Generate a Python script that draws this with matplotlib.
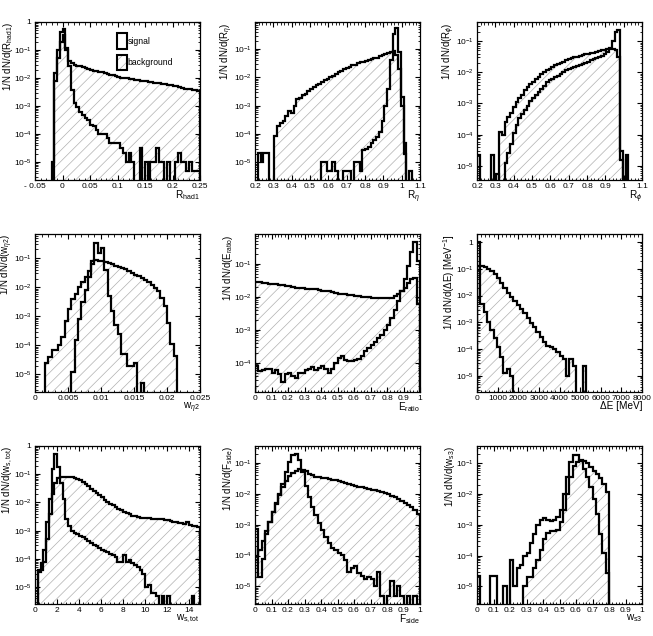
import matplotlib
matplotlib.use("Agg")
import matplotlib.pyplot as plt
import numpy as np
from matplotlib.patches import Rectangle
from matplotlib.ticker import (AutoMinorLocator, FuncFormatter, LogLocator,
                               MultipleLocator, NullFormatter)

plt.rcParams.update({
    "font.family": ["Liberation Sans", "DejaVu Sans"],
    "mathtext.fontset": "custom",
    "mathtext.rm": "Liberation Sans",
    "mathtext.it": "Liberation Sans:italic",
    "mathtext.bf": "Liberation Sans:bold",
    "axes.linewidth": 0.9,
    "xtick.direction": "in", "ytick.direction": "in",
    "xtick.top": True, "ytick.right": True,
    "xtick.major.size": 3.5, "xtick.minor.size": 1.8,
    "ytick.major.size": 3.5, "ytick.minor.size": 1.8,
    "xtick.major.width": 0.8, "xtick.minor.width": 0.6,
    "ytick.major.width": 0.8, "ytick.minor.width": 0.6,
    "xtick.labelsize": 6, "ytick.labelsize": 6,
    "xtick.major.pad": 2, "ytick.major.pad": 2.5,
    "hatch.linewidth": 0.5,
    "hatch.color": "#b0b0b0",
})

HATCH_GREY = "#b0b0b0"
FLOOR = 1e-9  # empty bins are drawn down to the frame bottom

# ---- normalised bin contents (1/N dN/dx) -----------------------------------
# R_had1: 60 bins in [-0.05, 0.25]
rhad1_range = (-0.05, 0.25)
rhad1_sig = [0, 0, 0, 0, 0, 0, 1e-5, 0.015, 0.1, 0.45,
             0.55, 0.12, 0.026, 3.8e-3, 1.3e-3, 9e-4, 5.9e-4, 4.9e-4, 3.7e-4, 3.2e-4,
             2.1e-4, 2e-4, 1.35e-4, 1e-4, 1e-4, 1e-4, 7.2e-5, 4.8e-5, 4.8e-5, 4.8e-5,
             4.8e-5, 3.2e-5, 2.1e-5, 1e-5, 2.1e-5, 1e-5, 0, 0, 3.2e-5, 0,
             1e-5, 0, 1e-5, 1e-5, 3.2e-5, 1e-5, 1e-5, 0, 1e-5, 0,
             0, 1e-5, 2.1e-5, 1e-5, 1e-5, 5e-6, 1e-5, 5e-6, 5e-6, 5e-6]
rhad1_bkg = [0, 0, 0, 0, 0, 0, 0, 0.008, 0.05, 0.2,
             0.35, 0.1, 0.041, 0.034, 0.030, 0.028, 0.026, 0.024, 0.022, 0.021,
             0.0195, 0.0185, 0.0175, 0.0165, 0.0158, 0.015, 0.0143, 0.0133, 0.0127, 0.0121,
             0.0107, 0.0104, 0.0101, 0.0098, 0.0093, 0.0091, 0.0088, 0.0086, 0.0081, 0.0079,
             0.0077, 0.0075, 0.0071, 0.0069, 0.0067, 0.0065, 0.0062, 0.0060, 0.0057, 0.0056,
             0.0052, 0.0050, 0.0047, 0.0045, 0.0042, 0.0041, 0.0040, 0.0038, 0.0037, 0.0034]

# R_eta: 60 bins in [0.2, 1.1]
reta_range = (0.2, 1.1)
reta_sig = [0, 2.1e-5, 1e-5, 2.1e-5, 2.1e-5, 0, 0, 0, 0, 0,
            0, 0, 0, 0, 0, 0, 0, 0, 0, 0,
            0, 0, 0, 0, 1e-5, 1e-5, 5e-6, 5e-6, 1e-5, 5e-6,
            0, 0, 5e-6, 5e-6, 5e-6, 0, 1e-5, 1e-5, 5e-6, 2.8e-5,
            3e-5, 3.5e-5, 5e-5, 6e-5, 8e-5, 1.2e-4, 3e-4, 1e-3, 4e-3, 0.04,
            0.35, 0.55, 0.08, 2e-3, 5e-5, 0, 5e-6, 0, 0, 0]
reta_bkg = [0, 0, 0, 0, 0, 0, 0, 8.3e-5, 2e-4, 2.4e-4,
            2.8e-4, 4.3e-4, 6.4e-4, 5.5e-4, 1e-3, 1.7e-3, 1.9e-3, 2.3e-3, 2.7e-3, 3.2e-3,
            3.8e-3, 4.5e-3, 5.2e-3, 6e-3, 7e-3, 8e-3, 9e-3, 0.01, 0.0115, 0.013,
            0.015, 0.017, 0.019, 0.0215, 0.024, 0.0263, 0.0285, 0.031, 0.0336, 0.0355,
            0.0385, 0.041, 0.044, 0.047, 0.05, 0.055, 0.06, 0.065, 0.07, 0.076,
            0.087, 0.06, 0.02, 1e-3, 2e-5, 0, 0, 0, 0, 0]

# R_phi: 60 bins in [0.2, 1.1]
rphi_range = (0.2, 1.1)
rphi_sig = [2.2e-5, 0, 0, 0, 0, 2.2e-5, 0, 5.6e-6, 0, 0,
            1.2e-5, 2.5e-5, 5e-5, 1.1e-4, 2e-4, 3.3e-4, 4.5e-4, 6.2e-4, 8e-4, 1.2e-3,
            1.5e-3, 1.9e-3, 2.3e-3, 2.9e-3, 3.5e-3, 4.8e-3, 5.6e-3, 6.3e-3, 7e-3, 7.8e-3,
            9e-3, 0.0104, 0.0115, 0.0125, 0.0136, 0.0148, 0.016, 0.017, 0.0185, 0.02,
            0.022, 0.024, 0.026, 0.028, 0.031, 0.034, 0.039, 0.045, 0.06, 0.1,
            0.2, 0.23, 3e-5, 0, 2.2e-5, 0, 0, 0, 0, 0]
rphi_bkg = [0, 0, 0, 0, 0, 0, 0, 0, 1.2e-4, 1e-4,
            2.6e-4, 3.6e-4, 5e-4, 7.8e-4, 1.1e-3, 1.55e-3, 1.9e-3, 2.7e-3, 3.4e-3, 4.1e-3,
            4.9e-3, 6e-3, 7.2e-3, 8.7e-3, 0.0101, 0.0114, 0.0129, 0.015, 0.0166, 0.0183,
            0.02, 0.022, 0.0245, 0.0265, 0.028, 0.03, 0.0315, 0.034, 0.0355, 0.0373,
            0.039, 0.041, 0.043, 0.045, 0.048, 0.05, 0.051, 0.054, 0.057, 0.057,
            0.05, 0.03, 1.5e-5, 0, 0, 0, 0, 0, 0, 0]

# w_eta2: 50 bins in [0, 0.025]
weta2_range = (0.0, 0.025)
weta2_sig = [0, 0, 0, 0, 0, 0, 0, 0, 0, 0,
             0, 1.2e-5, 1.5e-4, 8e-4, 3e-3, 8e-3, 0.023, 0.08, 0.33, 0.15,
             0.22, 0.04, 5e-3, 1.5e-3, 5e-4, 2.5e-4, 5e-5, 5e-5, 2e-5, 2e-5,
             2.5e-5, 0, 5e-6, 0, 0, 0, 0, 0, 0, 0,
             0, 0, 0, 0, 0, 0, 0, 0, 0, 0]
weta2_bkg = [0, 0, 0, 2.4e-5, 4e-5, 7e-5, 7e-5, 1e-4, 2e-4, 7e-4,
             1.8e-3, 3.8e-3, 6e-3, 0.01, 0.015, 0.022, 0.035, 0.065, 0.085, 0.083,
             0.083, 0.075, 0.068, 0.062, 0.056, 0.05, 0.045, 0.041, 0.037, 0.031,
             0.027, 0.024, 0.021, 0.018, 0.015, 0.012, 0.0095, 7.2e-3, 4.2e-3, 2.2e-3,
             6e-4, 1.1e-4, 4.3e-5, 0, 0, 0, 0, 0, 0, 0]

# E_ratio: 50 bins in [0, 1]
eratio_range = (0.0, 1.0)
eratio_sig = [8e-5, 5.5e-5, 6e-5, 6.5e-5, 6.5e-5, 5e-5, 6e-5, 4.5e-5, 2.7e-5, 4.5e-5,
              5e-5, 4e-5, 3.5e-5, 5e-5, 5e-5, 6e-5, 6.5e-5, 7.5e-5, 6e-5, 7e-5,
              8e-5, 6.5e-5, 5e-5, 6.5e-5, 1e-4, 1.4e-4, 1.6e-4, 1.2e-4, 1.1e-4, 1.15e-4,
              1.2e-4, 1.3e-4, 1.6e-4, 2.2e-4, 2.9e-4, 3.4e-4, 4.4e-4, 5.5e-4, 7e-4, 1e-3,
              1.4e-3, 2.2e-3, 4e-3, 7.5e-3, 0.015, 0.035, 0.085, 0.22, 0.45, 0.12]
eratio_bkg = [0.029, 0.028, 0.027, 0.026, 0.025, 0.024, 0.024, 0.023, 0.022, 0.021,
              0.021, 0.02, 0.019, 0.0185, 0.018, 0.0178, 0.0175, 0.017, 0.0168, 0.016,
              0.0155, 0.015, 0.0145, 0.0135, 0.013, 0.0125, 0.012, 0.0118, 0.0112, 0.011,
              0.0108, 0.0105, 0.0102, 0.01, 0.0096, 0.0094, 0.0093, 0.0092, 0.0092, 0.0091,
              0.0092, 0.0095, 0.0105, 0.012, 0.015, 0.019, 0.026, 0.034, 0.036, 0.006]

# Delta E [MeV]: 50 bins in [0, 8000]
deltae_range = (0.0, 8000.0)
deltae_sig = [1.0, 5e-3, 2.5e-3, 1e-3, 5e-4, 2.5e-4, 1.2e-4, 5e-5, 1.3e-5, 1.8e-5,
              1e-5, 0, 0, 0, 0, 0, 0, 0, 0, 0,
              0, 0, 0, 0, 0, 0, 0, 0, 0, 0,
              0, 0, 0, 0, 0, 0, 0, 0, 0, 0,
              0, 0, 0, 0, 0, 0, 0, 0, 0, 0]
deltae_bkg = [0.124, 0.124, 0.117, 0.102, 0.083, 0.064, 0.046, 0.03, 0.0194, 0.0126,
              9e-3, 6.2e-3, 4.3e-3, 3.2e-3, 2.2e-3, 1.5e-3, 9.7e-4, 6.9e-4, 4.4e-4, 2.9e-4,
              1.9e-4, 1.3e-4, 1.25e-4, 1e-4, 7.5e-5, 5.5e-5, 4.2e-5, 1e-5, 4.2e-5, 2.4e-5,
              0, 0, 2.4e-5, 0, 0, 0, 0, 0, 0, 0,
              0, 0, 0, 0, 0, 0, 0, 0, 0, 0]

# w_s,tot: 60 bins in [0, 15]
wstot_range = (0.0, 15.0)
wstot_sig = [0, 4e-5, 7e-5, 2e-4, 2e-3, 0.013, 0.15, 0.5, 0.18, 0.05,
             0.013, 2.5e-3, 1.4e-3, 1e-3, 8.5e-4, 7.5e-4, 6.5e-4, 6e-4, 5e-4, 4.2e-4,
             3.6e-4, 3.2e-4, 2.8e-4, 2.4e-4, 2.1e-4, 1.9e-4, 1.7e-4, 1.5e-4, 1.4e-4, 1.2e-4,
             8e-5, 8e-5, 1.4e-4, 8e-5, 9e-5, 7e-5, 6e-5, 5e-5, 4e-5, 3e-5,
             1e-5, 1.2e-5, 6e-6, 6e-6, 5e-6, 0, 5e-6, 0, 5e-6, 0,
             0, 0, 0, 0, 0, 0, 0, 5e-6, 0, 0]
wstot_bkg = [0, 3.5e-5, 4e-5, 8e-5, 5e-4, 4e-3, 0.02, 0.05, 0.075, 0.08,
             0.082, 0.082, 0.08, 0.077, 0.072, 0.066, 0.06, 0.052, 0.044, 0.037,
             0.031, 0.026, 0.022, 0.018, 0.0155, 0.012, 0.0105, 0.009, 0.0078, 0.0068,
             0.006, 0.0053, 0.0047, 0.0042, 0.0038, 0.0034, 0.0032, 0.003, 0.0029, 0.0028,
             0.0027, 0.0027, 0.0026, 0.0026, 0.0025, 0.0025, 0.0025, 0.0024, 0.0023, 0.0022,
             0.0021, 0.002, 0.0019, 0.0018, 0.0017, 0.0021, 0.0016, 0.0015, 0.0014, 0.0013]

# F_side: 50 bins in [0, 1]
fside_range = (0.0, 1.0)
fside_sig = [7e-4, 2e-5, 8e-5, 5e-4, 1.2e-3, 2.5e-3, 4.5e-3, 0.01, 0.02, 0.05,
             0.11, 0.18, 0.2, 0.12, 0.05, 0.018, 8e-3, 3.8e-3, 2e-3, 1.1e-3,
             6.7e-4, 4.1e-4, 2.5e-4, 1.7e-4, 1.5e-4, 1.2e-4, 1.05e-4, 7.3e-5, 3e-5, 3.9e-5,
             4.5e-5, 2.7e-5, 2.2e-5, 1.7e-5, 2e-5, 1.7e-5, 1e-5, 3e-5, 5e-6, 0,
             5e-6, 1.5e-5, 5e-6, 1e-5, 5e-6, 0, 5e-6, 0, 5e-6, 0]
fside_bkg = [1e-4, 1.5e-4, 3e-4, 6e-4, 1.2e-3, 2.6e-3, 4.9e-3, 9e-3, 0.016, 0.026,
             0.038, 0.046, 0.055, 0.062, 0.06, 0.053, 0.045, 0.04, 0.036, 0.034,
             0.033, 0.032, 0.03, 0.028, 0.027, 0.025, 0.024, 0.022, 0.0205, 0.019,
             0.018, 0.017, 0.016, 0.015, 0.0142, 0.0135, 0.0128, 0.012, 0.0115, 0.0105,
             0.0095, 0.0085, 0.0077, 0.0068, 0.006, 0.005, 0.0043, 0.0037, 0.003, 0.0022]

# w_s3: 50 bins in [0, 1]
ws3_range = (0.0, 1.0)
ws3_sig = [2.2e-5, 0, 0, 0, 2.2e-5, 2.2e-5, 0, 0, 1e-5, 0,
           7e-5, 1e-5, 4e-5, 5e-5, 1e-4, 1.2e-4, 2.5e-4, 5e-4, 1e-3, 1.4e-3,
           1.7e-3, 1.4e-3, 1.3e-3, 1.4e-3, 1.8e-3, 3e-3, 0.01, 0.035, 0.11, 0.18,
           0.19, 0.12, 0.065, 0.035, 0.017, 7e-3, 2.2e-3, 5e-4, 1.2e-4, 2.7e-5,
           0, 0, 0, 0, 0, 0, 0, 0, 0, 0]
ws3_bkg = [0, 0, 0, 0, 0, 0, 0, 0, 0, 0,
           0, 0, 0, 0, 1e-5, 2e-5, 2e-5, 4e-5, 7e-5, 1.5e-4,
           3.5e-4, 5.5e-4, 6.5e-4, 6.5e-4, 7e-4, 1.2e-3, 3e-3, 0.01, 0.035, 0.08,
           0.11, 0.13, 0.12, 0.1, 0.075, 0.055, 0.045, 0.032, 0.021, 0.012,
           0, 0, 0, 0, 0, 0, 0, 0, 0, 0]

# axis titles
xlabels = [r"R$_{\rm had1}$", r"R$_{\eta}$", r"R$_{\phi}$",
           r"w$_{\eta 2}$", r"E$_{\rm ratio}$", u"\u0394E [MeV]",
           r"w$_{\rm s,tot}$", r"F$_{\rm side}$", r"w$_{\rm s3}$"]
ylabels = [r"1/N dN/d(R$_{\rm had1}$)", r"1/N dN/d(R$_{\eta}$)",
           r"1/N dN/d(R$_{\phi}$)", r"1/N dN/d(w$_{\eta 2}$)",
           r"1/N dN/d(E$_{\rm ratio}$)",
           u"1/N dN/d(\u0394E) [MeV$^{-1}$]",
           r"1/N dN/d(w$_{\rm s,tot}$)", r"1/N dN/d(F$_{\rm side}$)",
           r"1/N dN/d(w$_{\rm s3}$)"]

PANELS = [
    (rhad1_range, rhad1_sig, rhad1_bkg, 0.05, (2.3e-6, 1.0)),
    (reta_range, reta_sig, reta_bkg, 0.1, (2.4e-6, 0.9)),
    (rphi_range, rphi_sig, rphi_bkg, 0.1, (3.5e-6, 0.41)),
    (weta2_range, weta2_sig, weta2_bkg, 0.005, (2.5e-6, 0.68)),
    (eratio_range, eratio_sig, eratio_bkg, 0.1, (1.3e-5, 0.8)),
    (deltae_range, deltae_sig, deltae_bkg, 1000, (2.5e-6, 2.0)),
    (wstot_range, wstot_sig, wstot_bkg, 2, (2.5e-6, 1.0)),
    (fside_range, fside_sig, fside_bkg, 0.1, (2.7e-6, 0.35)),
    (ws3_range, ws3_sig, ws3_bkg, 0.1, (2.7e-6, 0.36)),
]

COL_LEFT = [35, 255, 477]
ROW_TOP = [22, 234, 446]
W, H = 653, 636
AX_W, AX_H = 165, 158


def xfmt(v, pos):
    v = round(v, 6)
    if v == 0:
        return "0"
    s = f"{v:g}"
    return s.replace("-", "- ")


def yfmt(v, pos):
    e = int(round(np.log10(v)))
    if e == 0:
        return "1"
    return r"$10^{%d}$" % e


fig = plt.figure(figsize=(W / 100, H / 100), dpi=100)

for k, (xr, sig, bkg, major, ylim) in enumerate(PANELS):
    r, c = divmod(k, 3)
    ax = fig.add_axes([COL_LEFT[c] / W, 1 - (ROW_TOP[r] + AX_H) / H,
                       AX_W / W, AX_H / H])
    assert len(sig) == len(bkg)
    edges = np.linspace(xr[0], xr[1], len(sig) + 1)
    s = np.where(np.asarray(sig) > 0, sig, FLOOR)
    b = np.where(np.asarray(bkg) > 0, bkg, FLOOR)

    ax.stairs(b, edges, baseline=FLOOR, fill=True, facecolor="none",
              edgecolor=HATCH_GREY, linewidth=0, hatch="///", zorder=1)
    ax.stairs(b, edges, baseline=FLOOR, color="black", linewidth=1.6,
              zorder=2)
    ax.stairs(s, edges, baseline=FLOOR, color="black", linewidth=1.6,
              zorder=3)

    ax.set_yscale("log")
    ax.set_xlim(*xr)
    ax.set_ylim(*ylim)
    ax.xaxis.set_major_locator(MultipleLocator(major))
    ax.xaxis.set_minor_locator(AutoMinorLocator(5))
    ax.xaxis.set_major_formatter(FuncFormatter(xfmt))
    ax.yaxis.set_major_locator(LogLocator(base=10, numticks=20))
    ax.yaxis.set_minor_locator(LogLocator(base=10, subs=np.arange(2, 10),
                                          numticks=20))
    ax.yaxis.set_major_formatter(FuncFormatter(yfmt))
    ax.yaxis.set_minor_formatter(NullFormatter())

    ax.set_xlabel(xlabels[k], fontsize=7.2, loc="right")
    ax.xaxis.set_label_coords(1.0, -0.055)
    ax.set_ylabel(ylabels[k], fontsize=7, loc="top")
    ax.yaxis.set_label_coords(-0.12, 1.0)

    if k == 0:
        ax.add_patch(Rectangle((0.50, 0.83), 0.055, 0.10,
                               transform=ax.transAxes, facecolor="white",
                               edgecolor="black", linewidth=1.5, zorder=5))
        ax.add_patch(Rectangle((0.50, 0.695), 0.055, 0.095,
                               transform=ax.transAxes, facecolor="white",
                               edgecolor=HATCH_GREY, linewidth=0, hatch="///",
                               zorder=5))
        ax.add_patch(Rectangle((0.50, 0.695), 0.055, 0.095,
                               transform=ax.transAxes, facecolor="none",
                               edgecolor="black", linewidth=1.5, zorder=6))
        ax.text(0.562, 0.875, "signal", transform=ax.transAxes,
                fontsize=6.2, va="center", ha="left", zorder=6)
        ax.text(0.562, 0.742, "background", transform=ax.transAxes,
                fontsize=6.2, va="center", ha="left", zorder=6)

fig.savefig("out.png", dpi=100)
